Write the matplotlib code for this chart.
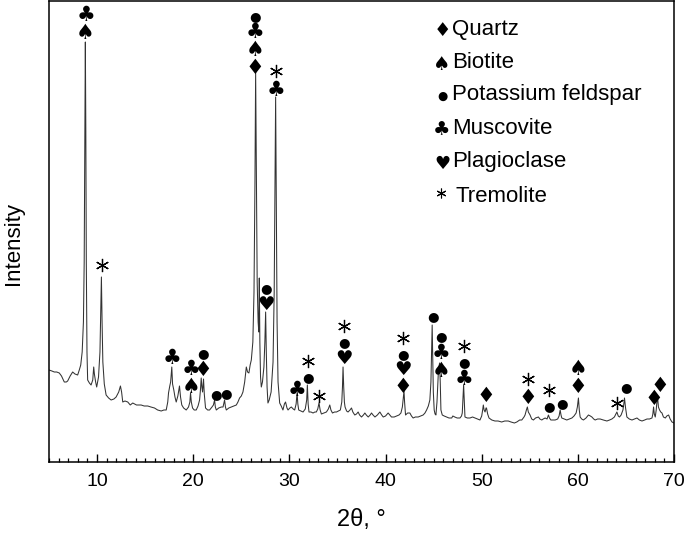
import matplotlib.pyplot as plt
from matplotlib.ticker import MultipleLocator
from matplotlib.transforms import offset_copy

plt.rcParams['font.family'] = ['Liberation Sans', 'DejaVu Sans']

# XRD trace (2theta in degrees, intensity in arbitrary units)
TWO_THETA = [
    5.0, 5.3, 5.55, 5.8, 6.07, 6.3, 6.59, 6.8, 6.94, 7.2, 7.46, 7.7, 7.98, 8.15, 8.3, 8.45,
    8.58, 8.66, 8.72, 8.78, 8.83, 8.88, 8.95, 9.02, 9.2, 9.375, 9.55, 9.65, 9.72, 9.85, 9.96,
    10.15, 10.3, 10.38, 10.45, 10.52, 10.6, 10.75, 10.94, 11.2, 11.46, 11.75, 11.98, 12.25,
    12.43, 12.55, 12.67, 12.9, 13.19, 13.45, 13.71, 14.1, 14.58, 14.9, 15.27, 15.6, 15.97,
    16.3, 16.67, 16.95, 17.19, 17.35, 17.43, 17.56, 17.65, 17.77, 17.85, 17.98, 18.1, 18.23,
    18.4, 18.57, 18.68, 18.81, 19.0, 19.27, 19.51, 19.65, 19.72, 19.8, 19.93, 20.1, 20.31,
    20.5, 20.66, 20.75, 20.83, 20.9, 20.97, 21.07, 21.15, 21.28, 21.5, 21.7, 21.95, 22.1,
    22.22, 22.3, 22.4, 22.65, 22.92, 23.1, 23.26, 23.35, 23.44, 23.7, 23.96, 24.2, 24.48,
    24.65, 24.82, 25.0, 25.17, 25.35, 25.52, 25.65, 25.79, 25.92, 26.04, 26.2, 26.32, 26.42,
    26.49, 26.56, 26.65, 26.75, 26.82, 26.87, 26.93, 27.0, 27.08, 27.2, 27.35, 27.45, 27.53,
    27.6, 27.68, 27.77, 27.9, 28.1, 28.3, 28.42, 28.5, 28.57, 28.63, 28.72, 28.82, 28.99,
    29.15, 29.33, 29.48, 29.6, 29.75, 29.86, 30.05, 30.2, 30.4, 30.55, 30.7, 30.8, 30.88,
    30.97, 31.2, 31.42, 31.65, 31.8, 31.87, 31.95, 32.04, 32.25, 32.46, 32.65, 32.8, 32.95,
    33.08, 33.2, 33.33, 33.6, 33.85, 34.05, 34.2, 34.32, 34.48, 34.7, 34.9, 35.1, 35.3,
    35.45, 35.52, 35.58, 35.65, 35.72, 35.79, 35.95, 36.1, 36.3, 36.46, 36.6, 36.8, 36.98,
    37.15, 37.3, 37.5, 37.7, 37.85, 38.0, 38.2, 38.4, 38.54, 38.7, 38.9, 39.15, 39.41, 39.6,
    39.76, 40.0, 40.27, 40.45, 40.62, 40.9, 41.15, 41.4, 41.6, 41.75, 41.85, 41.92, 41.98,
    42.08, 42.3, 42.53, 42.7, 42.87, 43.1, 43.39, 43.65, 43.91, 44.1, 44.27, 44.45, 44.61,
    44.72, 44.8, 44.85, 44.9, 44.97, 45.06, 45.15, 45.24, 45.35, 45.48, 45.55, 45.62, 45.69,
    45.76, 45.9, 46.1, 46.35, 46.6, 46.88, 47.0, 47.2, 47.45, 47.74, 47.9, 47.98, 48.05,
    48.12, 48.19, 48.26, 48.5, 48.78, 49.05, 49.3, 49.55, 49.82, 50.0, 50.1, 50.17, 50.25,
    50.35, 50.45, 50.5, 50.62, 50.76, 51.05, 51.38, 51.7, 52.08, 52.4, 52.76, 53.05, 53.4,
    53.65, 53.95, 54.17, 54.4, 54.51, 54.65, 54.75, 54.85, 55.03, 55.2, 55.38, 55.6, 55.9,
    56.05, 56.25, 56.4, 56.6, 56.8, 56.94, 57.05, 57.19, 57.4, 57.64, 57.9, 58.05, 58.16,
    58.25, 58.33, 58.6, 58.85, 59.1, 59.38, 59.6, 59.82, 59.95, 60.06, 60.15, 60.24, 60.4,
    60.58, 60.85, 61.1, 61.3, 61.46, 61.65, 61.8, 62.05, 62.32, 62.65, 63.02, 63.3, 63.54,
    63.8, 63.95, 64.06, 64.2, 64.33, 64.5, 64.69, 64.78, 64.85, 64.95, 65.1, 65.35, 65.63,
    65.9, 66.15, 66.4, 66.67, 66.95, 67.19, 67.45, 67.71, 67.8, 67.875, 67.95, 68.05, 68.15,
    68.22, 68.29, 68.38, 68.5, 68.62, 68.75, 68.9, 69.1, 69.25, 69.44, 69.6, 69.79, 70.0,
]
INTENSITY = [
    92, 91, 90, 90, 89, 86, 80, 80, 81, 86, 90, 88, 87, 92, 97, 110,
    140, 200, 320, 420, 330, 200, 110, 82, 79, 77, 82, 95, 88, 80, 75,
    85, 110, 150, 185, 140, 100, 78, 67, 64, 62, 63, 65, 70,
    76, 70, 60, 61, 60, 57, 59, 57, 57, 56, 56, 55, 54,
    52, 51, 52, 52, 60, 69, 76, 80, 95, 78, 72, 65, 60,
    66, 76, 65, 57, 54, 52, 55, 60, 69, 60, 54, 52, 52,
    56, 62, 72, 84, 75, 70, 83, 68, 54, 52, 52, 55, 57,
    62, 55, 52, 54, 55, 55, 62, 55, 52, 54, 55, 56, 57,
    60, 64, 66, 70, 80, 95, 90, 89, 97, 102, 120, 170, 280,
    390, 300, 180, 140, 130, 184, 120, 85, 75, 80, 95, 120, 150,
    110, 75, 59, 62, 70, 100, 170, 280, 365, 280, 140, 80, 59,
    56, 52, 58, 60, 54, 52, 54, 55, 53, 52, 58, 69, 58,
    52, 51, 50, 53, 62, 77, 58, 50, 50, 49, 50, 50, 53,
    59, 52, 48, 49, 50, 53, 57, 52, 49, 50, 50, 51, 52,
    60, 75, 95, 75, 60, 55, 51, 50, 52, 54, 50, 47, 48,
    50, 47, 45, 47, 49, 47, 45, 47, 49, 47, 45, 47, 50, 47,
    45, 46, 49, 47, 45, 45, 46, 47, 49, 55, 65, 71, 60,
    47, 49, 49, 46, 44, 45, 45, 46, 47, 49, 52, 56, 62,
    80, 115, 137, 110, 70, 52, 48, 47, 60, 87, 95, 99, 80,
    52, 47, 46, 45, 44, 44, 46, 45, 44, 44, 46, 49, 62,
    77, 60, 45, 44, 44, 45, 44, 43, 42, 46, 52, 57, 52,
    50, 54, 54, 48, 44, 42, 41, 41, 40, 41, 41, 40, 39,
    40, 42, 42, 45, 47, 52, 55, 50, 47, 43, 42, 44, 45,
    43, 42, 43, 44, 43, 47, 44, 42, 42, 42, 43, 46, 52,
    47, 44, 43, 42, 43, 44, 46, 49, 55, 64, 52, 45, 43,
    42, 44, 47, 46, 45, 43, 42, 43, 43, 42, 41, 42, 43,
    45, 48, 50, 46, 45, 47, 52, 58, 64, 55, 45, 43, 42,
    43, 44, 42, 41, 42, 43, 43, 44, 48, 55, 48, 45, 52,
    60, 65, 55, 52, 50, 49, 45, 44, 46, 47, 43, 40, 39,
]

# phase codes used for the peak labels
PHASE_CODES = ['Q', 'B', 'K', 'M', 'P', 'T']
PHASE_NAMES = ['Quartz', 'Biotite', 'Potassium feldspar', 'Muscovite', 'Plagioclase', 'Tremolite']
PHASE_GLYPHS = ['\u2666', '\u2660', '\u25cf', '\u2663', '\u2665', None]  # Tremolite drawn as asterisk

# labelled peaks: position, intensity of the lowest symbol, phases from bottom to top
LABEL_X = [8.8, 10.5, 17.8, 19.79, 21.0, 22.32, 23.4, 26.46, 27.53, 28.65, 30.83, 31.94,
           33.08, 35.66, 41.83, 44.93, 45.73, 48.19, 50.42, 54.85, 57.0, 58.4, 60.0,
           64.06, 65.0, 67.875, 68.5]
LABEL_Y = [431, 197, 106, 77, 94, 69, 70, 396, 160, 374, 74, 86,
           66, 106, 77, 147, 93, 85, 68, 66, 57, 60, 77,
           59, 76, 65, 78]
LABEL_PHASES = ['BM', 'T', 'M', 'BM', 'QK', 'K', 'K', 'QBMK', 'PK', 'MT', 'M', 'KT',
                'T', 'PKT', 'QPKT', 'K', 'BMK', 'MKT', 'Q', 'QT', 'KT', 'K', 'QB',
                'T', 'K', 'Q', 'Q']

# approximate symbol heights (points) used for stacking, and glyph font sizes
SYM_H = {'Q': 10.0, 'B': 10.0, 'K': 7.0, 'M': 10.0, 'P': 9.0, 'T': 9.0}
SYM_FS = {'Q': 15, 'B': 15, 'K': 9.5, 'M': 15, 'P': 14}
GAP = 2.8

fig = plt.figure(figsize=(6.85, 5.35), dpi=100)
ax = fig.add_axes([49 / 685, 1 - 462 / 535, 625 / 685, 461 / 535])

ax.plot(TWO_THETA, INTENSITY, color='#333333', linewidth=0.75)

ax.set_xlim(5, 70)
ax.set_ylim(0, 461)
ax.set_yticks([])
ax.set_xticks(range(10, 71, 10))
ax.xaxis.set_minor_locator(MultipleLocator(1))
ax.tick_params(axis='x', which='major', direction='in', length=6, width=1.0,
               labelsize=14, pad=8)
ax.tick_params(axis='x', which='minor', direction='in', length=2.8, width=0.9)
for sp in ax.spines.values():
    sp.set_linewidth(1.1)

ax.set_xlabel('2\u03b8, \u00b0', fontsize=17)
ax.xaxis.set_label_coords(0.5, -0.103)
ax.set_ylabel('Intensity', fontsize=16)
ax.yaxis.set_label_coords(-0.040, 0.475)


def draw_symbol(code, x, y, dy, base):
    tr = offset_copy(base, fig=fig, x=0, y=dy, units='points')
    glyph = PHASE_GLYPHS[PHASE_CODES.index(code)]
    if glyph is None:
        ax.plot([x], [y], marker=(6, 2, 0), markersize=9.5, markeredgewidth=0.9,
                color='black', transform=tr, clip_on=False)
    else:
        ax.text(x, y, glyph, fontsize=SYM_FS[code], family='DejaVu Sans',
                ha='center', va='center_baseline', color='black', transform=tr)


for x, y, phases in zip(LABEL_X, LABEL_Y, LABEL_PHASES):
    dy = 0.0
    for i, code in enumerate(phases):
        if i > 0:
            dy += SYM_H[phases[i - 1]] / 2 + GAP + SYM_H[code] / 2
        draw_symbol(code, x, y, dy, ax.transData)

# legend built as text in axes coordinates
LEG_ROWS = [29, 62, 95, 128, 162, 197]
for code, name, py in zip(PHASE_CODES, PHASE_NAMES, LEG_ROWS):
    yy = 1 - (py - 1) / 461
    if code == 'T':
        ax.plot([(441 - 49) / 625], [yy + 0.008], marker=(6, 2, 0), markersize=7,
                markeredgewidth=0.8, color='black', transform=ax.transAxes)
        ax.text((455 - 49) / 625, yy, name, fontsize=16, ha='left', va='center',
                transform=ax.transAxes)
    else:
        ax.text((442 - 49) / 625, yy, PHASE_GLYPHS[PHASE_CODES.index(code)],
                fontsize=SYM_FS[code] - 1, family='DejaVu Sans', ha='center',
                va='center_baseline', transform=ax.transAxes)
        ax.text((452 - 49) / 625, yy, name, fontsize=16, ha='left', va='center',
                transform=ax.transAxes)

fig.savefig('out.png', dpi=100)
